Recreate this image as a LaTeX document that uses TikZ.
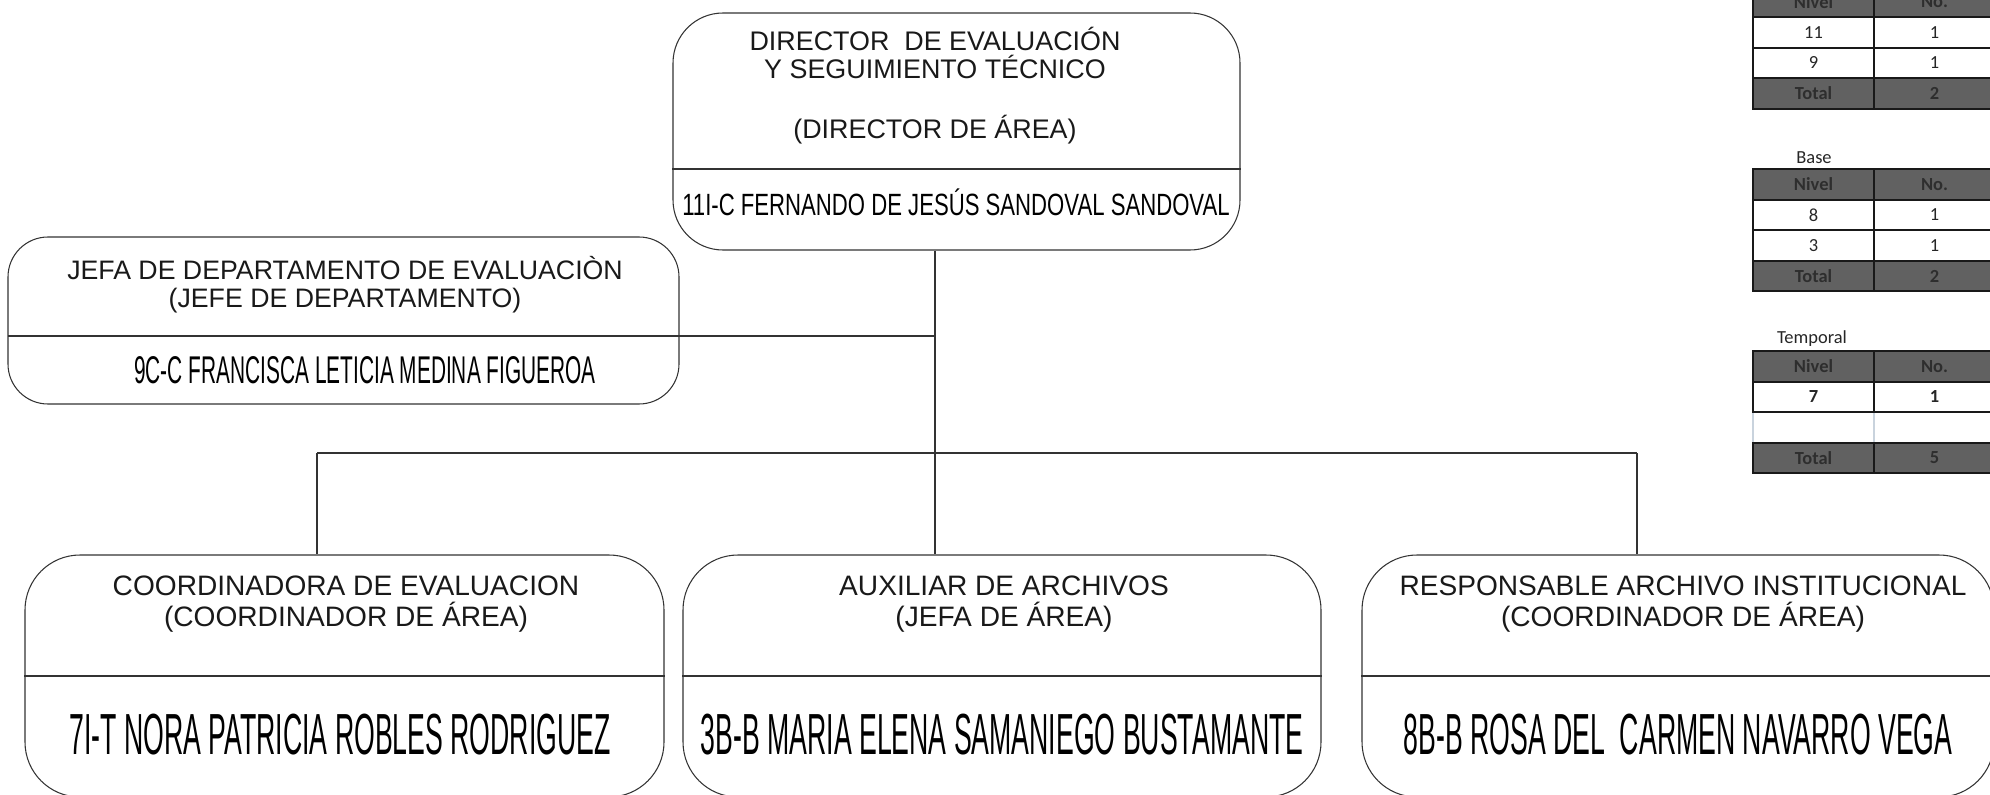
\documentclass[tikz,border=0pt]{standalone}
\usepackage{fontspec}
\setmainfont{Liberation Sans}
\newfontfamily\cellfont{Carlito}
\newfontfamily\dirname[FakeStretch=0.72]{Liberation Sans}
\newfontfamily\jefaname[FakeStretch=0.54]{Liberation Sans}
\newfontfamily\staffname[FakeStretch=0.46]{Liberation Sans}
\usetikzlibrary{fit}
\definecolor{hdrgray}{HTML}{616161}
\definecolor{hdrtext}{HTML}{2E2E2E}
\definecolor{blankline}{HTML}{C9D3DD}
\begin{document}
\begin{tikzpicture}[x=0.02cm, y=-0.02cm,
  box/.style={draw=black!80, line width=0.6pt, rounded corners=1cm, inner sep=0pt},
  link/.style={draw=black!80, line width=0.6pt},
  title/.style={align=center, text=black!90, font=\fontsize{15.3}{16}\selectfont},
  subtitle/.style={align=center, text=black!90, font=\fontsize{16}{17.6}\selectfont},
  cell/.style={draw=black!90, line width=1.1pt, minimum width=2.42cm, minimum height=0.61cm, inner sep=0pt, font=\cellfont\fontsize{10.5}{12}\selectfont},
  hcell/.style={cell, fill=hdrgray, text=hdrtext, font=\cellfont\bfseries\fontsize{10.5}{12}\selectfont},
  vcell/.style={cell, fill=white, text=black!85}]
\useasboundingbox (0,0) rectangle (1990,794);

\node[box, fit={(673,13) (1240,250)}] (dir) {};
\draw[link] (dir.west |- 0,169) -- (dir.east |- 0,169);
\node[title] (dirT) at (935,53) {DIRECTOR\ \ DE EVALUACIÓN\\Y SEGUIMIENTO TÉCNICO};
\node[title, anchor=base] (dirP) at (935,138) {(DIRECTOR DE ÁREA)};
\node[anchor=base, font=\dirname\fontsize{17.5}{19}\selectfont] (dirN) at (956,215) {11I-C FERNANDO DE JESÚS SANDOVAL SANDOVAL};

\node[box, rounded corners=0.8cm, fit={(8,237) (679,404)}] (jefa) {};
\coordinate (trunk) at (935,453);
\coordinate (jefadiv) at (8,336);
\draw[link] (jefadiv) -- (jefadiv -| trunk);
\node[title, font=\fontsize{15.2}{16}\selectfont] (jefaT) at (345,285) {JEFA DE DEPARTAMENTO DE EVALUACIÒN\\(JEFE DE DEPARTAMENTO)};
\node[anchor=base, font=\jefaname\fontsize{22}{24}\selectfont] (jefaN) at (365,383) {9C-C FRANCISCA LETICIA MEDINA FIGUEROA};

\node[box, rounded corners=1.1cm, fit={(25,555) (664,797)}] (coord) {};
\node[box, rounded corners=1.1cm, fit={(683,555) (1321,797)}] (aux) {};
\node[box, rounded corners=1.1cm, fit={(1362,555) (1994,797)}] (resp) {};
\draw[link] (coord.west |- 0,676) -- (coord.east |- 0,676);
\draw[link] (aux.west |- 0,676) -- (aux.east |- 0,676);
\draw[link] (resp.west |- 0,676) -- (resp.east |- 0,676);

\node[subtitle] (coordT) at (346,604) {COORDINADORA DE EVALUACION\\(COORDINADOR DE ÁREA)};
\node[subtitle] (auxT) at (1004,604) {AUXILIAR DE ARCHIVOS\\(JEFA DE ÁREA)};
\node[subtitle] (respT) at (1683,604) {RESPONSABLE ARCHIVO INSTITUCIONAL\\(COORDINADOR DE ÁREA)};
\node[anchor=base, font=\staffname\fontsize{33}{36}\selectfont] (coordN) at (340,754) {7I-T NORA PATRICIA ROBLES RODRIGUEZ};
\node[anchor=base, font=\staffname\fontsize{33}{36}\selectfont] (auxN) at (1002,754) {3B-B MARIA ELENA SAMANIEGO BUSTAMANTE};
\node[anchor=base, font=\staffname\fontsize{33}{36}\selectfont] (respN) at (1678,754) {8B-B ROSA DEL\ \ CARMEN NAVARRO VEGA};

\coordinate (busL) at (317,453);
\coordinate (busR) at (1637,453);
\draw[link] (trunk |- dir.south) -- (trunk);
\draw[link] (busL) -- (busR);
\draw[link] (busL) -- (busL |- coord.north);
\draw[link] (trunk) -- (trunk |- aux.north);
\draw[link] (busR) -- (busR |- resp.north);

\node[hcell] (t1h1) at (1813.5,2) {Nivel};
\node[hcell] (t1h2) at (1934.5,2) {No.};
\node[vcell] (t1a1) at (1813.5,32.5) {11};
\node[vcell] (t1a2) at (1934.5,32.5) {1};
\node[vcell] (t1b1) at (1813.5,63) {9};
\node[vcell] (t1b2) at (1934.5,63) {1};
\node[hcell] (t1t1) at (1813.5,93.5) {Total};
\node[hcell] (t1t2) at (1934.5,93.5) {2};

\node[font=\cellfont\fontsize{10.5}{12}\selectfont, text=black!85] (baseL) at (1814,158) {Base};
\node[hcell] (t2h1) at (1813.5,184.5) {Nivel};
\node[hcell] (t2h2) at (1934.5,184.5) {No.};
\node[vcell] (t2a1) at (1813.5,215) {8};
\node[vcell] (t2a2) at (1934.5,215) {1};
\node[vcell] (t2b1) at (1813.5,245.5) {3};
\node[vcell] (t2b2) at (1934.5,245.5) {1};
\node[hcell] (t2t1) at (1813.5,276) {Total};
\node[hcell] (t2t2) at (1934.5,276) {2};

\node[font=\cellfont\fontsize{10.5}{12}\selectfont, text=black!85] (tempL) at (1812,339) {Temporal};
\node[cell, draw=blankline, line width=0.8pt] (t3b1) at (1813.5,427.5) {};
\node[cell, draw=blankline, line width=0.8pt] (t3b2) at (1934.5,427.5) {};
\node[hcell] (t3h1) at (1813.5,366.5) {Nivel};
\node[hcell] (t3h2) at (1934.5,366.5) {No.};
\node[vcell, font=\cellfont\bfseries\fontsize{10.5}{12}\selectfont] (t3a1) at (1813.5,397) {7};
\node[vcell, font=\cellfont\bfseries\fontsize{10.5}{12}\selectfont] (t3a2) at (1934.5,397) {1};
\node[hcell] (t3t1) at (1813.5,458) {Total};
\node[hcell] (t3t2) at (1934.5,458) {5};
\end{tikzpicture}
\end{document}
